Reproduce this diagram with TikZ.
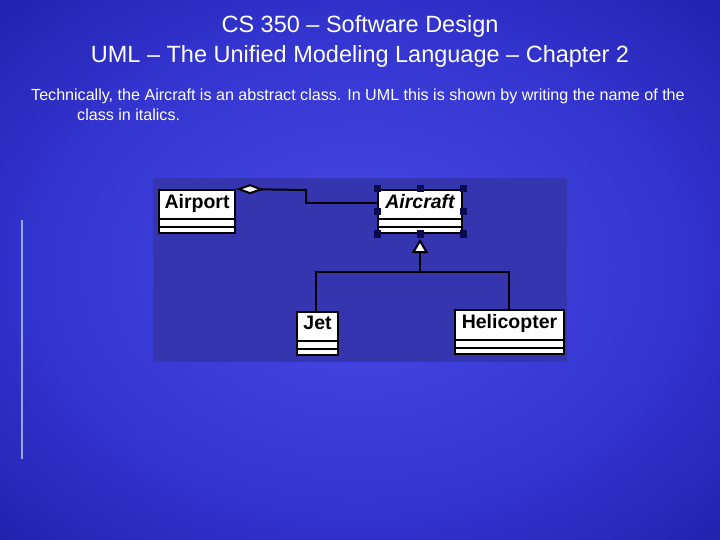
\documentclass[tikz,border=0pt]{standalone}
\usepackage{fontspec}
\setmainfont{Liberation Sans}
\usetikzlibrary{calc,arrows.meta}
\definecolor{bgin}{HTML}{4A4AE8}
\definecolor{bgmid}{HTML}{3434D0}
\definecolor{bgout}{HTML}{0E0E88}
\definecolor{panel}{HTML}{3535B0}
\definecolor{rule}{HTML}{9AA8E0}
\definecolor{handlec}{HTML}{0A0A50}
\pgfdeclareradialshading{slidebg}{\pgfpoint{0bp}{0bp}}{color(0bp)=(bgin); color(22bp)=(bgmid); color(50bp)=(bgout); color(72bp)=(bgout)}
\tikzset{
classbox/.style = {draw = black, fill = white, line width = 2pt, inner sep = 0pt, anchor = north west},
classname/.style = {font = \fontsize{19.5}{22}\selectfont\bfseries, inner sep = 0pt, anchor = north, yshift = -5pt},
link/.style = {line width = 2pt, color = black},
handle/.style = {fill = handlec, minimum size = 7pt, inner sep = 0pt}
}

\begin{document}
\begin{tikzpicture}[x=1pt,y=-1pt]
%
\useasboundingbox (0,0) rectangle (720,540);
\shade[shading=slidebg] (0,0) rectangle (720,540);
%
% title and text
\node[white, font=\fontsize{23.5}{30}\selectfont, align=center] (title) at (360,41)
 {CS 350 -- Software Design\\UML -- The Unified Modeling Language -- Chapter 2};
\node[white, font=\fontsize{16.1}{20}\selectfont, anchor=north west, inner sep=0pt] (text1) at (31,89)
 {Technically, the Aircraft is an abstract class. In UML this is shown by writing the name of the};
\node[white, font=\fontsize{16.1}{20}\selectfont, anchor=north west, inner sep=0pt] (text2) at (77,109)
 {class in italics.};
%
\draw[rule, line width=1.3pt] (22,220) -- (22,459);
%
% diagram panel
\fill[panel] (153,178) rectangle (567,362);
%
\node[classbox, minimum width=76pt, minimum height=43pt] (airport) at (158,189) {};
\node[classbox, minimum width=84pt, minimum height=43pt] (aircraft) at (377,189) {};
\node[classbox, minimum width=41pt, minimum height=43pt] (jet) at (296,311) {};
\node[classbox, minimum width=109pt, minimum height=44pt] (heli) at (454,309) {};
%
\node[classname] at (airport.north) {Airport};
\node[classname] at (aircraft.north) {\itshape Aircraft};
\node[classname] at (jet.north) {Jet};
\node[classname] at (heli.north) {Helicopter};
%
\foreach \b in {airport,aircraft,jet,heli} {
\draw[line width=2pt] ($(\b.south west)+(0,-15)$) -- ($(\b.south east)+(0,-15)$);
\draw[line width=2pt] ($(\b.south west)+(0,-7)$) -- ($(\b.south east)+(0,-7)$);
}
%
% aggregation
\coordinate (bendA) at (306,190);
\coordinate (bendB) at (306,203);
\draw[link, {Diamond[open, fill=white, length=28pt, width=10pt]}-] (airport.north east) -- (bendA) -- (bendB) -- (bendB -| aircraft.west);
%
% generalization
\coordinate (joint) at (aircraft.south |- 0,272);
\draw[link, -{Triangle[open, fill=white, length=14pt, width=16pt]}] (joint) -- ($(aircraft.south)+(0,5)$);
\draw[link] (jet.north -| 316,0) |- (joint) -| (heli.north -| 509,0);
%
% selection handles
\foreach \a in {north west,north,north east,west,east,south west,south,south east}
 \node[handle] at (aircraft.\a) {};
%
\end{tikzpicture}
\end{document}
